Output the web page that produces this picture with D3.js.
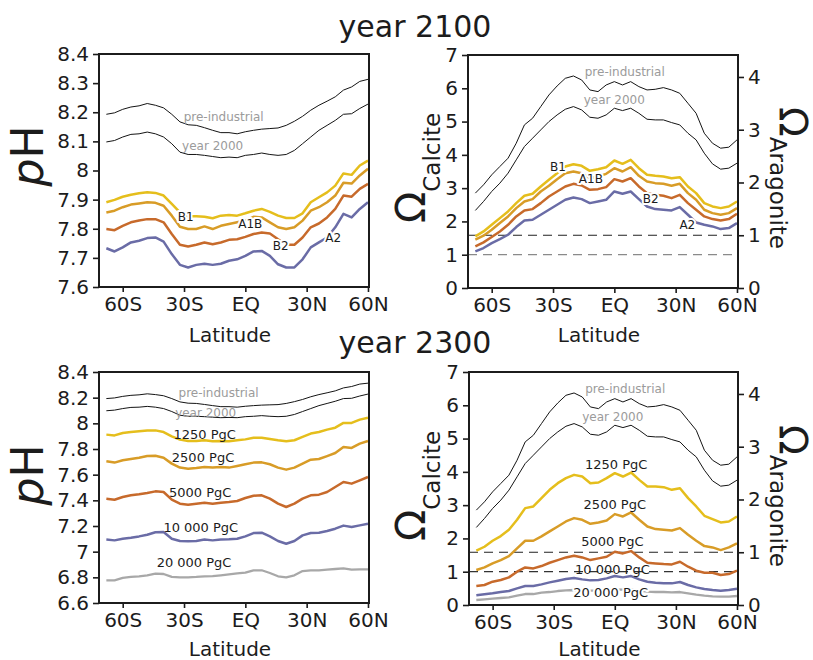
<!DOCTYPE html>
<html>
<head>
<meta charset="utf-8">
<script src="https://cdn.jsdelivr.net/npm/d3@7"></script>
<style>
  html, body { margin: 0; padding: 0; background: #fff; }
  svg { display: block; }
  text { font-family: "DejaVu Sans", Verdana, sans-serif; }
</style>
</head>
<body>
<svg id="chart" width="813" height="660"></svg>
<script>
// Zonal-mean surface ocean chemistry along latitude (negative = south)
const latitudes = [-68,-64,-60,-56,-52,-48,-44,-40,-36,-32,-28,-24,-20,-16,-12,-8,-4,
                   0,4,8,12,16,20,24,28,32,36,40,44,48,52,56,60];
const latTicks = [-60, -30, 0, 30, 60];
const latTickLabels = ["60S", "30S", "EQ", "30N", "60N"];

const pHTicks2100 = [7.6, 7.7, 7.8, 7.9, 8.0, 8.1, 8.2, 8.3, 8.4];
const pHTicks2300 = [6.6, 6.8, 7.0, 7.2, 7.4, 7.6, 7.8, 8.0, 8.2, 8.4];
const calciteTicks = [0, 1, 2, 3, 4, 5, 6, 7];
const aragoniteTicks = [0, 1, 2, 3, 4];

// pH
const pHPreIndustrial = [8.193,8.198,8.210,8.218,8.222,8.230,8.224,8.215,8.193,8.167,8.157,8.155,8.147,8.138,8.130,8.130,8.126,
                         8.133,8.138,8.142,8.144,8.146,8.155,8.169,8.186,8.207,8.224,8.238,8.253,8.276,8.287,8.306,8.313];
const pHYear2000 = [8.098,8.103,8.115,8.124,8.126,8.132,8.126,8.115,8.092,8.063,8.055,8.055,8.052,8.048,8.044,8.046,8.044,
                    8.052,8.055,8.060,8.055,8.052,8.055,8.069,8.092,8.115,8.138,8.155,8.172,8.193,8.195,8.213,8.228];
const pH2100B1 = [7.891,7.899,7.910,7.917,7.922,7.925,7.923,7.914,7.885,7.856,7.843,7.843,7.841,7.836,7.845,7.847,7.845,
                  7.853,7.862,7.868,7.858,7.845,7.837,7.837,7.853,7.891,7.908,7.925,7.948,7.990,7.985,8.017,8.034];
const pH2100A1B = [7.856,7.862,7.874,7.883,7.887,7.891,7.889,7.879,7.845,7.807,7.799,7.799,7.808,7.799,7.810,7.816,7.822,
                   7.828,7.841,7.839,7.822,7.805,7.799,7.805,7.828,7.862,7.874,7.891,7.914,7.958,7.955,7.983,8.006];
const pH2100B2 = [7.799,7.795,7.810,7.822,7.828,7.833,7.833,7.822,7.782,7.745,7.739,7.745,7.753,7.747,7.753,7.762,7.764,
                  7.772,7.782,7.787,7.784,7.764,7.745,7.745,7.770,7.805,7.818,7.839,7.868,7.914,7.910,7.937,7.954];
const pH2100A2 = [7.733,7.722,7.736,7.753,7.759,7.768,7.770,7.756,7.713,7.676,7.667,7.676,7.680,7.676,7.680,7.690,7.695,
                  7.707,7.722,7.724,7.707,7.678,7.667,7.667,7.695,7.736,7.753,7.770,7.805,7.851,7.839,7.868,7.891];
const pH2300C1250 = [7.912,7.906,7.925,7.932,7.938,7.945,7.945,7.932,7.899,7.873,7.862,7.862,7.868,7.860,7.862,7.860,7.868,
                     7.875,7.888,7.888,7.878,7.868,7.860,7.868,7.894,7.920,7.932,7.951,7.966,8.003,8.003,8.029,8.044];
const pH2300C2500 = [7.704,7.694,7.712,7.722,7.732,7.745,7.748,7.732,7.686,7.655,7.647,7.652,7.660,7.655,7.660,7.655,7.668,
                     7.681,7.694,7.696,7.681,7.655,7.639,7.655,7.686,7.717,7.722,7.745,7.769,7.816,7.808,7.842,7.862];
const pH2300C5000 = [7.413,7.405,7.426,7.439,7.447,7.457,7.470,7.465,7.405,7.374,7.366,7.374,7.382,7.374,7.382,7.387,7.395,
                     7.418,7.436,7.439,7.413,7.374,7.348,7.374,7.413,7.439,7.444,7.465,7.504,7.543,7.530,7.556,7.582];
const pH2300C10000 = [7.094,7.088,7.101,7.109,7.119,7.132,7.151,7.153,7.101,7.083,7.081,7.083,7.094,7.088,7.094,7.096,7.101,
                      7.119,7.145,7.148,7.119,7.083,7.062,7.083,7.127,7.145,7.148,7.161,7.179,7.203,7.192,7.205,7.218];
const pH2300C20000 = [6.777,6.777,6.795,6.803,6.808,6.816,6.829,6.826,6.803,6.800,6.800,6.803,6.808,6.810,6.816,6.823,6.831,
                      6.836,6.855,6.855,6.834,6.808,6.800,6.816,6.849,6.855,6.855,6.860,6.865,6.870,6.860,6.862,6.862];

// Calcite saturation state
const omPreIndustrial = [2.85,3.10,3.40,3.65,3.90,4.35,4.90,5.10,5.45,5.80,6.07,6.30,6.37,6.25,5.95,5.90,6.10,
                         6.20,6.10,6.20,6.05,5.95,5.97,6.02,5.95,5.85,5.55,5.25,4.65,4.35,4.20,4.23,4.45];
const omYear2000 = [2.33,2.60,2.90,3.15,3.45,3.85,4.25,4.50,4.75,5.00,5.20,5.37,5.45,5.35,5.13,5.10,5.20,
                    5.40,5.33,5.40,5.25,5.07,5.05,5.05,4.97,4.90,4.65,4.45,4.05,3.73,3.57,3.60,3.75];
const om2100B1 = [1.55,1.70,1.90,2.10,2.30,2.55,2.77,2.83,3.05,3.25,3.45,3.65,3.72,3.67,3.52,3.57,3.63,
                  3.83,3.73,3.85,3.60,3.40,3.37,3.35,3.30,3.33,3.05,2.85,2.55,2.45,2.40,2.45,2.60];
const om2100A1B = [1.45,1.57,1.75,1.95,2.15,2.40,2.60,2.67,2.90,3.07,3.27,3.45,3.50,3.45,3.30,3.35,3.43,
                   3.60,3.50,3.63,3.37,3.20,3.15,3.13,3.07,3.13,2.85,2.65,2.35,2.25,2.20,2.25,2.40];
const om2100B2 = [1.25,1.37,1.53,1.70,1.90,2.15,2.33,2.37,2.55,2.75,2.90,3.05,3.13,3.08,2.95,2.97,3.03,
                  3.27,3.20,3.30,3.05,2.85,2.80,2.77,2.70,2.80,2.55,2.35,2.15,2.07,2.03,2.07,2.23];
const om2100A2 = [1.10,1.20,1.35,1.47,1.60,1.83,2.03,2.05,2.20,2.35,2.50,2.65,2.72,2.67,2.55,2.60,2.65,
                  2.90,2.83,2.90,2.67,2.45,2.37,2.35,2.33,2.43,2.20,1.97,1.90,1.85,1.77,1.80,1.95];
const om2300C1250 = [1.63,1.75,1.93,2.07,2.26,2.56,2.91,2.96,3.21,3.46,3.66,3.81,3.91,3.86,3.66,3.68,3.81,
                     3.96,3.86,3.98,3.76,3.56,3.56,3.54,3.46,3.51,3.21,2.96,2.68,2.58,2.48,2.51,2.66];
const om2300C2500 = [1.05,1.13,1.25,1.35,1.47,1.70,1.93,1.93,2.06,2.21,2.36,2.51,2.61,2.56,2.44,2.48,2.54,
                     2.73,2.66,2.78,2.56,2.36,2.28,2.26,2.24,2.31,2.11,1.93,1.77,1.73,1.65,1.73,1.85];
const om2300C5000 = [0.57,0.60,0.70,0.75,0.83,1.00,1.13,1.10,1.17,1.27,1.35,1.43,1.48,1.43,1.35,1.40,1.45,
                     1.60,1.55,1.62,1.43,1.27,1.25,1.23,1.22,1.30,1.15,1.03,0.97,0.97,0.90,0.93,1.03];
const om2300C10000 = [0.29,0.32,0.35,0.39,0.42,0.50,0.57,0.57,0.62,0.68,0.73,0.78,0.81,0.77,0.74,0.75,0.80,
                      0.87,0.83,0.87,0.77,0.70,0.67,0.65,0.65,0.69,0.60,0.53,0.48,0.45,0.43,0.45,0.49];
const om2300C20000 = [0.15,0.17,0.19,0.21,0.23,0.28,0.33,0.33,0.37,0.39,0.42,0.44,0.45,0.44,0.43,0.43,0.45,
                      0.47,0.46,0.47,0.43,0.40,0.39,0.39,0.38,0.39,0.35,0.31,0.28,0.26,0.25,0.25,0.27];

// Ω calcite / Ω aragonite ratio used for the right-hand axis
const calciteToAragonite = 1.585;

const C = {
  black: "#141414", gray: "#9b9b9b",
  yellow: "#e5be1c", gold: "#d89c27", orange: "#c76a2b", blue: "#6a6ca6", lgray: "#a8a8a8"
};
const INK = "#1c1c1c";

const svg = d3.select("#chart");
svg.append("rect").attr("width", 813).attr("height", 660).attr("fill", "#fff");

const fmtPH = v => (Math.abs(v - Math.round(v)) < 1e-9 ? String(Math.round(v)) : v.toFixed(1));

function drawPanel(cfg) {
  const x = d3.scaleLinear().domain([-71.6, 60.5]).range([cfg.left, cfg.right]);
  const y = d3.scaleLinear().domain(cfg.yDomain).range([cfg.bottom, cfg.top]);
  const g = svg.append("g");

  (cfg.dashes || []).forEach(d => {
    g.append("line")
      .attr("x1", cfg.left).attr("x2", cfg.right)
      .attr("y1", y(d.v)).attr("y2", y(d.v))
      .attr("stroke", d.color).attr("stroke-width", 1.2)
      .attr("stroke-dasharray", "9,6");
  });

  const line = d3.line().x((d, i) => x(latitudes[i])).y(d => y(d));
  cfg.series.forEach(s => {
    g.append("path")
      .attr("d", line(s.values))
      .attr("fill", "none")
      .attr("stroke", s.color)
      .attr("stroke-width", s.width)
      .attr("stroke-linejoin", "round");
  });

  cfg.series.forEach(s => {
    if (!s.label) return;
    const t = g.append("text")
      .attr("x", x(s.at[0])).attr("y", y(s.at[1]))
      .attr("dy", "0.36em")
      .attr("text-anchor", "middle")
      .attr("font-size", s.size || 12)
      .attr("fill", s.textColor || INK)
      .text(s.label);
    if (s.halo) {
      t.attr("stroke", "#fff").attr("stroke-width", 4)
       .attr("paint-order", "stroke").attr("stroke-linejoin", "round");
    }
  });

  g.append("rect")
    .attr("x", cfg.left).attr("y", cfg.top)
    .attr("width", cfg.right - cfg.left).attr("height", cfg.bottom - cfg.top)
    .attr("fill", "none").attr("stroke", INK).attr("stroke-width", 2);

  const styleAxis = sel => {
    sel.select(".domain").remove();
    sel.selectAll(".tick line").attr("stroke", INK).attr("stroke-width", 1.6);
    sel.selectAll(".tick text").attr("fill", INK).attr("font-size", 20)
       .attr("font-family", "DejaVu Sans, Verdana, sans-serif");
  };

  g.append("g").attr("transform", `translate(${cfg.left},0)`)
    .call(d3.axisLeft(y).tickValues(cfg.yTicks).tickFormat(cfg.yFormat).tickSize(6).tickPadding(4))
    .call(styleAxis);

  g.append("g").attr("transform", `translate(0,${cfg.bottom})`)
    .call(d3.axisBottom(x).tickValues(latTicks).tickFormat((d, i) => latTickLabels[i]).tickSize(5).tickPadding(5))
    .call(styleAxis);

  if (cfg.right2) {
    const y2 = d3.scaleLinear()
      .domain([cfg.yDomain[0] / calciteToAragonite, cfg.yDomain[1] / calciteToAragonite])
      .range([cfg.bottom, cfg.top]);
    g.append("g").attr("transform", `translate(${cfg.right},0)`)
      .call(d3.axisRight(y2).tickValues(aragoniteTicks).tickFormat(d3.format("d")).tickSize(6).tickPadding(4))
      .call(styleAxis);
  }

  // axis title under the panel
  g.append("text")
    .attr("x", (cfg.left + cfg.right) / 2 - 4).attr("y", cfg.titleY)
    .attr("text-anchor", "middle").attr("font-size", 20).attr("fill", INK)
    .text("Latitude");
}

// Vertical axis titles
function pHTitle(cy) {
  const t = svg.append("text")
    .attr("transform", `translate(43,${cy}) rotate(-90)`)
    .attr("text-anchor", "middle").attr("font-size", 44).attr("fill", INK);
  t.append("tspan").attr("font-style", "italic").text("p");
  t.append("tspan").text("H");
}
function calciteTitle(cy) {
  const t = svg.append("text")
    .attr("transform", `translate(425,${cy}) rotate(-90)`)
    .attr("text-anchor", "middle").attr("fill", INK);
  t.append("tspan").attr("font-size", 41).text("Ω");
  t.append("tspan").attr("font-size", 23).attr("dy", 15).text("Calcite");
}
function aragoniteTitle(cy) {
  const t = svg.append("text")
    .attr("transform", `translate(779,${cy}) rotate(90)`)
    .attr("text-anchor", "middle").attr("fill", INK);
  t.append("tspan").attr("font-size", 39).text("Ω");
  t.append("tspan").attr("font-size", 23).attr("dy", 9).text("Aragonite");
}

// ---- year 2100 ----
drawPanel({
  left: 99, right: 369, top: 54, bottom: 287, titleY: 342,
  yDomain: [7.6, 8.4], yTicks: pHTicks2100, yFormat: fmtPH,
  series: [
    { values: pHPreIndustrial, color: C.black, width: 1, label: "pre-industrial", at: [-10.6, 8.186], textColor: C.gray },
    { values: pHYear2000, color: C.black, width: 1, label: "year 2000", at: [-16, 8.086], textColor: C.gray },
    { values: pH2100B1, color: C.yellow, width: 2.5, label: "B1", at: [-29.2, 7.841], halo: true },
    { values: pH2100A1B, color: C.gold, width: 2.5, label: "A1B", at: [2.4, 7.817], halo: true },
    { values: pH2100B2, color: C.orange, width: 2.5, label: "B2", at: [17.3, 7.741], halo: true },
    { values: pH2100A2, color: C.blue, width: 2.5, label: "A2", at: [43, 7.769], halo: true }
  ]
});

drawPanel({
  left: 468, right: 738, top: 55, bottom: 288, titleY: 342,
  yDomain: [0, 7], yTicks: calciteTicks, yFormat: d3.format("d"), right2: true,
  dashes: [{ v: calciteToAragonite, color: "#222" }, { v: 1, color: "#8a8a8a" }],
  series: [
    { values: omPreIndustrial, color: C.black, width: 1, label: "pre-industrial", at: [5.1, 6.49], textColor: C.gray },
    { values: omYear2000, color: C.black, width: 1, label: "year 2000", at: [0, 5.65], textColor: C.gray },
    { values: om2100B1, color: C.yellow, width: 2.5, label: "B1", at: [-27.6, 3.64], halo: true },
    { values: om2100A1B, color: C.gold, width: 2.5, label: "A1B", at: [-11.5, 3.28], halo: true },
    { values: om2100B2, color: C.orange, width: 2.5, label: "B2", at: [17.8, 2.68], halo: true },
    { values: om2100A2, color: C.blue, width: 2.5, label: "A2", at: [35.7, 1.9], halo: true }
  ]
});

// ---- year 2300 ----
drawPanel({
  left: 99, right: 369, top: 372, bottom: 603, titleY: 656,
  yDomain: [6.6, 8.4], yTicks: pHTicks2300, yFormat: fmtPH,
  series: [
    { values: pHPreIndustrial, color: C.black, width: 1, label: "pre-industrial", at: [-13.1, 8.239], textColor: C.gray },
    { values: pHYear2000, color: C.black, width: 1, label: "year 2000", at: [-19.4, 8.08], textColor: C.gray },
    { values: pH2300C1250, color: C.yellow, width: 2.5, label: "1250 PgC", at: [-19.9, 7.917], size: 13 },
    { values: pH2300C2500, color: C.gold, width: 2.5, label: "2500 PgC", at: [-20.7, 7.738], size: 13 },
    { values: pH2300C5000, color: C.orange, width: 2.5, label: "5000 PgC", at: [-22.1, 7.465], size: 13 },
    { values: pH2300C10000, color: C.blue, width: 2.5, label: "10 000 PgC", at: [-21.8, 7.192], size: 13 },
    { values: pH2300C20000, color: C.lgray, width: 2.3, label: "20 000 PgC", at: [-25.1, 6.919], size: 13 }
  ]
});

drawPanel({
  left: 469, right: 738, top: 372, bottom: 605, titleY: 656,
  yDomain: [0, 7], yTicks: calciteTicks, yFormat: d3.format("d"), right2: true,
  dashes: [{ v: calciteToAragonite, color: "#222" }, { v: 1, color: "#333" }],
  series: [
    { values: omPreIndustrial, color: C.black, width: 1, label: "pre-industrial", at: [5.1, 6.49], textColor: C.gray },
    { values: omYear2000, color: C.black, width: 1, label: "year 2000", at: [-1, 5.65], textColor: C.gray },
    { values: om2300C1250, color: C.yellow, width: 2.5, label: "1250 PgC", at: [0.7, 4.24], size: 13 },
    { values: om2300C2500, color: C.gold, width: 2.5, label: "2500 PgC", at: [0, 3.03], size: 13 },
    { values: om2300C5000, color: C.orange, width: 2.5, label: "5000 PgC", at: [-1.2, 1.92], size: 13 },
    { values: om2300C10000, color: C.blue, width: 2.5, label: "10 000 PgC", at: [-1.2, 1.08], size: 13 },
    { values: om2300C20000, color: C.lgray, width: 2.3, label: "20 000 PgC", at: [-2, 0.39], size: 13, halo: true }
  ]
});

pHTitle(156);
pHTitle(475);
calciteTitle(168);
calciteTitle(486);
aragoniteTitle(178);
aragoniteTitle(496);

svg.append("text").attr("x", 415).attr("y", 37).attr("text-anchor", "middle")
  .attr("font-size", 30).attr("fill", INK).text("year 2100");
svg.append("text").attr("x", 415).attr("y", 353).attr("text-anchor", "middle")
  .attr("font-size", 30).attr("fill", INK).text("year 2300");
</script>
</body>
</html>
